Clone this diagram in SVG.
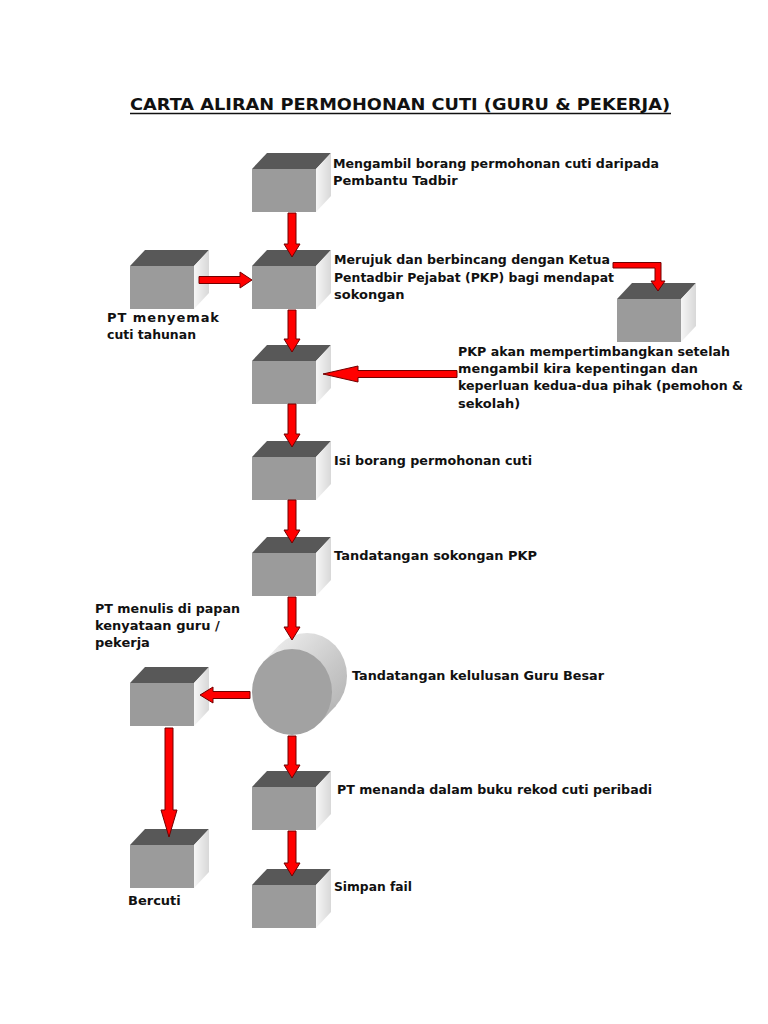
<svg xmlns="http://www.w3.org/2000/svg" xmlns:xlink="http://www.w3.org/1999/xlink" width="768" height="1024" viewBox="0 0 768 1024">
<defs>
<style>
.t{font-family:"DejaVu Sans","Liberation Sans",sans-serif;font-weight:bold;font-size:13px;fill:#111}
.title{font-family:"DejaVu Sans","Liberation Sans",sans-serif;font-weight:bold;font-size:16px;fill:#111}
.arr{fill:#ff0000;stroke:#700000;stroke-width:1;stroke-linejoin:miter}
.front{fill:#9b9b9b}
.top{fill:#585858}
.side{fill:url(#sideG)}
</style>
<linearGradient id="sideG" x1="0" y1="0" x2="1" y2="0">
<stop offset="0" stop-color="#f6f6f6"/>
<stop offset="1" stop-color="#d8d8d8"/>
</linearGradient>
<linearGradient id="cylG" x1="0" y1="0" x2="1" y2="1">
<stop offset="0" stop-color="#f2f2f2"/>
<stop offset="0.6" stop-color="#c8c8c8"/>
<stop offset="1" stop-color="#b0b0b0"/>
</linearGradient>
<g id="cube">
<polygon class="top" points="0,0 64,0 79,-16 15,-16"/>
<polygon class="side" points="64,0 79,-16 79,27 64,43"/>
<rect class="front" x="0" y="0" width="64" height="43"/>
</g>
</defs>
<rect width="768" height="1024" fill="#ffffff"/>

<text class="title" x="130" y="110" textLength="540" lengthAdjust="spacingAndGlyphs">CARTA ALIRAN PERMOHONAN CUTI (GURU &amp; PEKERJA)</text>
<line x1="130" y1="113.5" x2="671" y2="113.5" stroke="#111" stroke-width="1.3"/>

<g id="n1"><use xlink:href="#cube" x="252" y="169"/>
<text class="t" x="333" y="168" textLength="326" lengthAdjust="spacingAndGlyphs">Mengambil borang permohonan cuti daripada</text>
<text class="t" x="333" y="185">Pembantu Tadbir</text></g>

<g id="n2"><use xlink:href="#cube" x="252" y="266"/>
<text class="t" x="334" y="264" textLength="276" lengthAdjust="spacingAndGlyphs">Merujuk dan berbincang dengan Ketua</text>
<text class="t" x="334" y="282" textLength="280" lengthAdjust="spacingAndGlyphs">Pentadbir Pejabat (PKP) bagi mendapat</text>
<text class="t" x="334" y="299">sokongan</text></g>

<g id="n_ptmenyemak"><use xlink:href="#cube" x="130" y="266"/>
<text class="t" x="107" y="322" textLength="112" lengthAdjust="spacing">PT menyemak</text>
<text class="t" x="107" y="339" textLength="89" lengthAdjust="spacingAndGlyphs">cuti tahunan</text></g>

<g id="n_pkp"><use xlink:href="#cube" x="617" y="299"/>
<text class="t" x="458" y="356" textLength="272" lengthAdjust="spacingAndGlyphs">PKP akan mempertimbangkan setelah</text>
<text class="t" x="458" y="373" textLength="240" lengthAdjust="spacingAndGlyphs">mengambil kira kepentingan dan</text>
<text class="t" x="458" y="390" textLength="285" lengthAdjust="spacingAndGlyphs">keperluan kedua-dua pihak (pemohon &amp;</text>
<text class="t" x="458" y="408">sekolah)</text></g>

<g id="n3"><use xlink:href="#cube" x="252" y="361"/></g>

<g id="n4"><use xlink:href="#cube" x="252" y="457"/>
<text class="t" x="334" y="465" textLength="198" lengthAdjust="spacingAndGlyphs">Isi borang permohonan cuti</text></g>

<g id="n5"><use xlink:href="#cube" x="252" y="553"/>
<text class="t" x="334" y="560" textLength="203" lengthAdjust="spacingAndGlyphs">Tandatangan sokongan PKP</text></g>

<g id="n6">
<ellipse cx="307" cy="676" rx="40" ry="43" fill="url(#cylG)"/>
<polygon points="321.2,721.5 336.2,705.5 277.8,646.5 262.8,662.5" fill="url(#cylG)"/>
<ellipse cx="292" cy="692" rx="40" ry="43" fill="#a2a2a2"/>
<text class="t" x="352" y="680" textLength="252" lengthAdjust="spacingAndGlyphs">Tandatangan kelulusan Guru Besar</text></g>

<g id="n_ptmenulis"><use xlink:href="#cube" x="130" y="683"/>
<text class="t" x="95" y="613" textLength="145" lengthAdjust="spacingAndGlyphs">PT menulis di papan</text>
<text class="t" x="95" y="630">kenyataan guru /</text>
<text class="t" x="95" y="647">pekerja</text></g>

<g id="n_bercuti"><use xlink:href="#cube" x="130" y="845"/>
<text class="t" x="128" y="905">Bercuti</text></g>

<g id="n7"><use xlink:href="#cube" x="252" y="787"/>
<text class="t" x="337" y="794" textLength="315" lengthAdjust="spacingAndGlyphs">PT menanda dalam buku rekod cuti peribadi</text></g>

<g id="n8"><use xlink:href="#cube" x="252" y="885"/>
<text class="t" x="334" y="891" textLength="78" lengthAdjust="spacingAndGlyphs">Simpan fail</text></g>

<g id="connectors">
<path class="arr" d="M288,213 H296 V244 H300 L292,257 L284,244 H288 Z"/>
<path class="arr" d="M288,310 H296 V339 H300 L292,352 L284,339 H288 Z"/>
<path class="arr" d="M288,404 H296 V434 H300 L292,447 L284,434 H288 Z"/>
<path class="arr" d="M288,500 H296 V530 H300 L292,543 L284,530 H288 Z"/>
<path class="arr" d="M288,597 H296 V627 H300 L292,640 L284,627 H288 Z"/>
<path class="arr" d="M288,736 H296 V765 H300 L292,778 L284,765 H288 Z"/>
<path class="arr" d="M288,831 H296 V863 H300 L292,876 L284,863 H288 Z"/>
<path class="arr" d="M199,276.5 V283.5 H240 V288 L252,280 L240,272 V276.5 Z"/>
<path class="arr" d="M613,262.5 H661 V281 H665 L658,291 L651,281 H655 V268 H613 Z"/>
<path class="arr" d="M457,370.5 V377.5 H358 V382 L323,374 L358,366 V370.5 Z"/>
<path class="arr" d="M250,691.5 V698.5 H213 V703 L200,695 L213,687 V691.5 Z"/>
<path class="arr" d="M165,728 H173 V810 H177 L169,837 L161,810 H165 Z"/>
</g>
</svg>
